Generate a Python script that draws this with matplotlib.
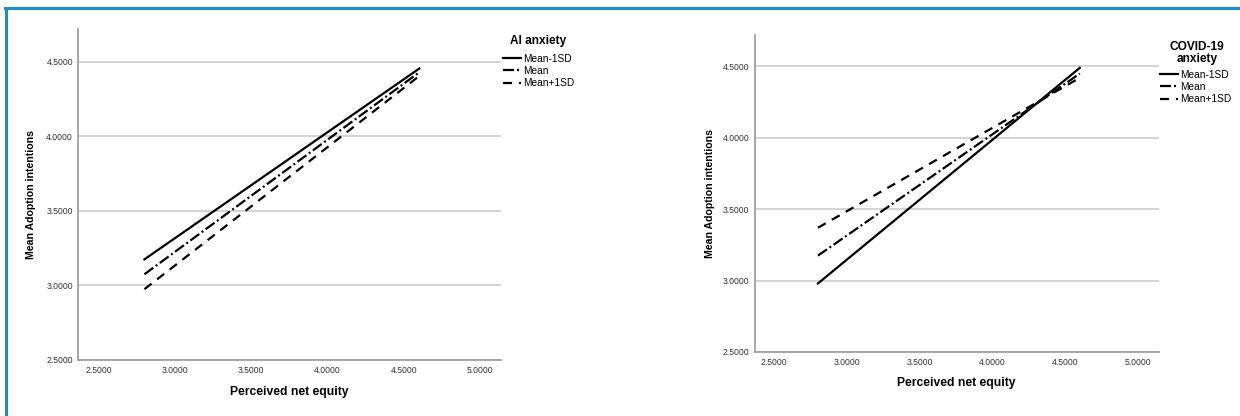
import matplotlib.pyplot as plt
from matplotlib.lines import Line2D

plt.rcParams['font.family'] = ['Liberation Sans', 'DejaVu Sans']

# Simple slopes data (x endpoints and predicted adoption intentions)
x_vals = [2.8, 4.6]
levels = ['Mean-1SD', 'Mean', 'Mean+1SD']

ai_low = [3.175, 4.455]
ai_mean = [3.075, 4.43]
ai_high = [2.975, 4.405]

covid_low = [2.98, 4.49]
covid_mean = [3.175, 4.45]
covid_high = [3.37, 4.42]

x_ticks = [2.5, 3.0, 3.5, 4.0, 4.5, 5.0]
y_ticks = [2.5, 3.0, 3.5, 4.0, 4.5]

styles = [dict(linestyle='-'),
          dict(linestyle=(0, (4.95, 1.35, 0.9, 1.35))),
          dict(linestyle=(0, (4.05, 3.15)))]

W, H = 1240, 416
fig = plt.figure(figsize=(12.4, 4.16), dpi=100)

# blue frame around the figure
fig.add_artist(Line2D([5 / W, 1.0], [1 - 7.7 / H, 1 - 7.7 / H], color='#1a8fc4', lw=2.2))
fig.add_artist(Line2D([6 / W, 6 / W], [0, 1 - 7.7 / H], color='#1a8fc4', lw=2.2))

ax1 = fig.add_axes([78 / W, 56 / H, 423 / W, 331 / H])
ax2 = fig.add_axes([754.5 / W, 64 / H, 404 / W, 317 / H])


def draw(ax, series, xlim, xlab_y, ylab_x, title, title_xy, leg_xy):
    for ys, st, lab in zip(series, styles, levels):
        ax.plot(x_vals, ys, color='black', lw=1.6, label=lab, **st)
    ax.set_xlim(*xlim)
    ax.set_ylim(2.5, 4.72)
    ax.set_xticks(x_ticks)
    ax.set_yticks(y_ticks)
    ax.set_xticklabels(['%.4f' % v for v in x_ticks])
    ax.set_yticklabels(['%.4f' % v for v in y_ticks])
    ax.tick_params(length=0, labelsize=6.2, labelcolor='#333333')
    ax.tick_params(axis='x', pad=4)
    ax.tick_params(axis='y', pad=3.6)
    ax.grid(axis='y', color='#c8c8c8', lw=1.1)
    ax.set_axisbelow(True)
    for s in ['top', 'right']:
        ax.spines[s].set_visible(False)
    for s in ['left', 'bottom']:
        ax.spines[s].set_color('#a0a0a0')
        ax.spines[s].set_linewidth(1.3)
    ax.set_xlabel('Perceived net equity', fontsize=8.7, fontweight='bold')
    ax.set_ylabel('Mean Adoption intentions', fontsize=7.6, fontweight='bold')
    ax.xaxis.set_label_coords(0.5, xlab_y)
    ax.yaxis.set_label_coords(ylab_x, 0.5)
    fig.text(title_xy[0] / W, 1 - title_xy[1] / H, title, ha='center', va='top',
             fontsize=8.6, fontweight='bold', linespacing=1.05)
    ax.legend(loc='upper left', bbox_to_anchor=(leg_xy[0] / W, 1 - leg_xy[1] / H),
              bbox_transform=fig.transFigure, frameon=False, fontsize=7.3,
              handlelength=1.78, handletextpad=0.2, labelspacing=0.2,
              borderaxespad=0, borderpad=0)


draw(ax1, [ai_low, ai_mean, ai_high], (2.365, 5.135), -0.079, -0.099,
     'AI anxiety', (538, 35), (503, 54))
draw(ax2, [covid_low, covid_mean, covid_high], (2.364, 5.141), -0.079, -0.098,
     'COVID-19\nanxiety', (1197, 41), (1160, 70))

fig.savefig('out.png', dpi=100)
